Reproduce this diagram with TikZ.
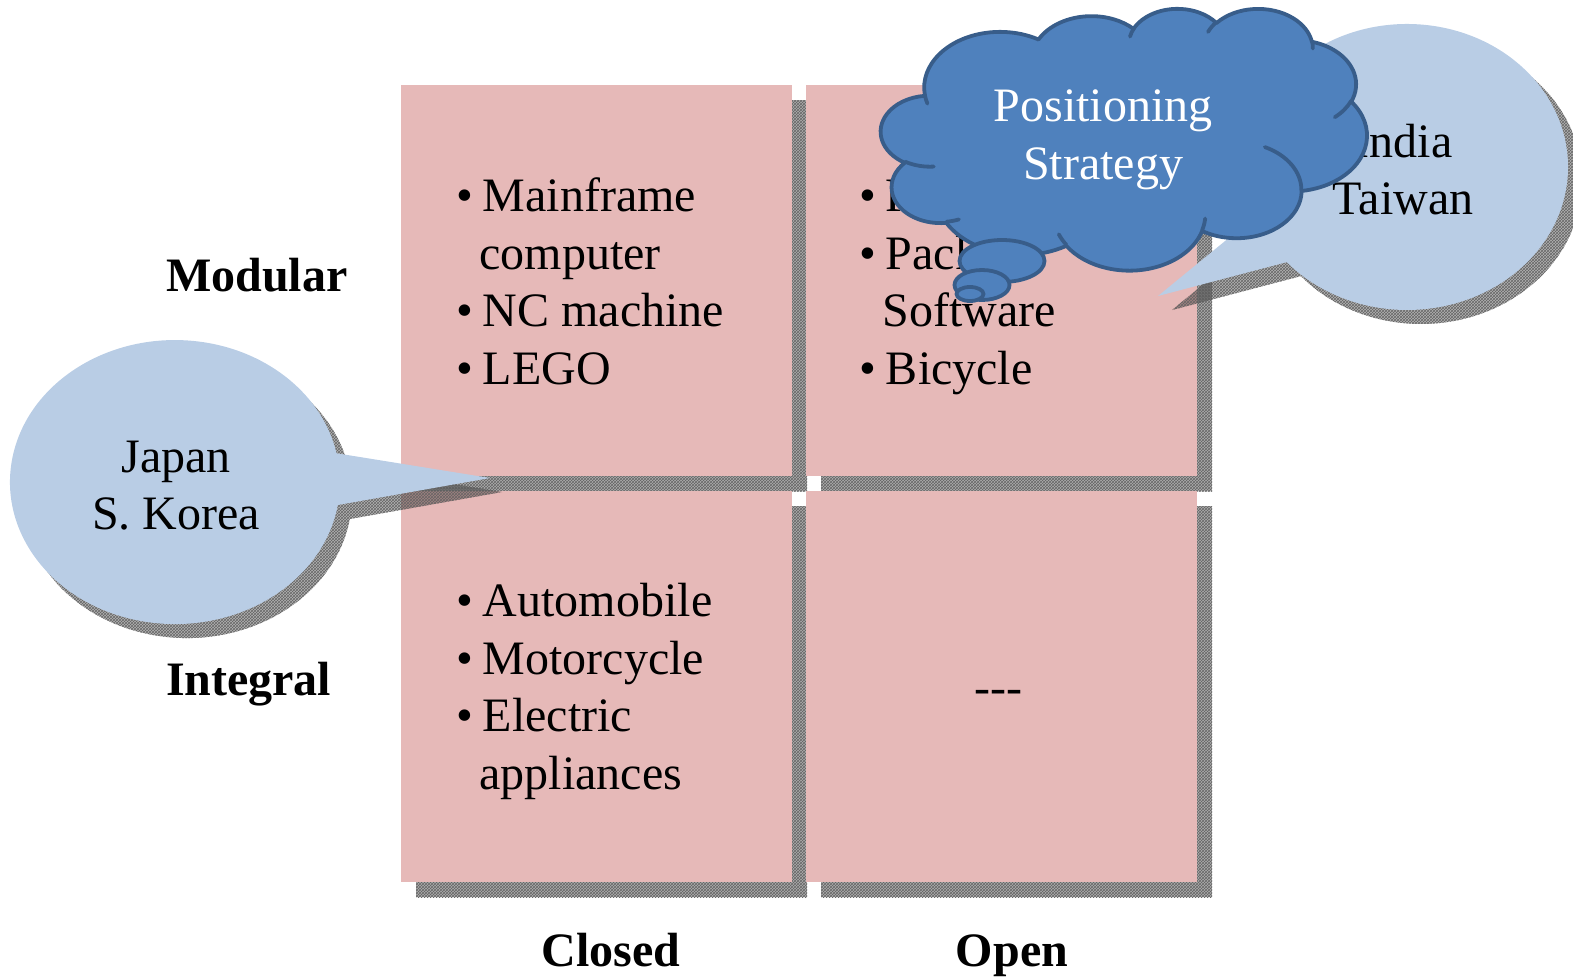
\documentclass[tikz,border=0pt]{standalone}
\usepackage{fontspec}
\setmainfont{Liberation Serif}
\usetikzlibrary{patterns,shapes.geometric}

\definecolor{cellpink}{HTML}{E6B9B8}
\definecolor{calloutblue}{HTML}{B9CDE5}
\definecolor{cloudblue}{HTML}{4F81BD}
\definecolor{cloudedge}{HTML}{385D8A}

\newcommand\itemdot{\makebox[27pt][l]{\textbullet}}

\tikzset{
  cell/.style={fill=cellpink, anchor=north west, inner sep=0pt, outer sep=0pt,
               minimum width=391pt, minimum height=391pt},
  dropshade/.style={fill=black, fill opacity=0.3,
               postaction={pattern=crosshatch, pattern color=black!60, fill opacity=1}},
  txt/.style={inner sep=0pt, outer sep=0pt, font=\fontsize{48}{57.5}\selectfont},
  head/.style={txt, font=\fontsize{48}{57.5}\selectfont\bfseries},
  callout/.style={fill=calloutblue},
  cloudpath/.style={fill=cloudblue, draw=cloudedge, line width=3.8pt, line join=round},
  puffline/.style={draw=cloudedge, line width=3.8pt, line cap=round},
  % elliptical arc given by radii, start angle and sweep measured as true angles
  ooarc/.style n args={4}{insert path={arc[
      start angle={atan2((#1)*sin(#3),(#2)*cos(#3))},
      delta angle={mod(atan2((#1)*sin((#3)+(#4)),(#2)*cos((#3)+(#4)))-atan2((#1)*sin(#3),(#2)*cos(#3))+720,360)},
      x radius=#1, y radius=#2]}},
  jpshape/.style={insert path={(490,478) -- (337.8,505.0)
      arc[start angle=9.3, end angle=348.3, x radius=165, y radius=142] -- cycle}},
  inshape/.style={insert path={(1158,296) -- (1286.8,262.1)
      arc[start angle=138.3, end angle=-200, x radius=161, y radius=143] -- cycle}},
}

\begin{document}
\begin{tikzpicture}[x=1pt, y=-1pt]
\useasboundingbox (0,0) rectangle (1573,977);

% the four cells of the matrix with their drop shadows
\node[cell] (tl) at (401,85) {};
\node[cell] (tr) at (806,85) {};
\node[cell] (bl) at (401,491) {};
\node[cell] (br) at (806,491) {};
\foreach \c in {tl,tr,bl,br}{
  \fill[dropshade, fill opacity=1, fill=black!32]
    ([shift={(15,15)}]\c.north west) rectangle ([shift={(15,15)}]\c.south east);
  \fill[cellpink] (\c.north west) rectangle (\c.south east);
}

% cell contents
\node[txt, anchor=base west] (tllist) at (456,211.7)
  {\begin{tabular}[t]{@{}l@{}}\itemdot Mainframe\\\hspace{23.5pt}computer\\\itemdot NC machine\\\itemdot LEGO\end{tabular}};
\node[txt, anchor=base west] (trlist) at (859,211.7)
  {\begin{tabular}[t]{@{}l@{}}\itemdot PC\\\itemdot Package\\\hspace{23.5pt}Software\\\itemdot Bicycle\end{tabular}};
\node[txt, anchor=base west] (bllist) at (456,616.7)
  {\begin{tabular}[t]{@{}l@{}}\itemdot Automobile\\\itemdot Motorcycle\\\itemdot Electric\\\hspace{23.5pt}appliances\end{tabular}};
\node[txt, anchor=base] (brtext) at (998,703) {-{}-{}-};

% axis labels
\node[head, anchor=base west] (modular) at (166,291.7) {Modular};
\node[head, anchor=base west] (integral) at (166,695) {Integral};
\node[head, anchor=base] (closed) at (611,966) {Closed};
\node[head, anchor=base] (open) at (1012,966) {Open};

% speech callouts
\fill[dropshade, shift={(12,14)}, jpshape];
\fill[callout, jpshape];
\node[txt, anchor=base] (japan) at (176,472)
  {\begin{tabular}[t]{@{}c@{}}Japan\\S. Korea\end{tabular}};

\fill[dropshade, shift={(14,14)}, inshape];
\fill[callout, inshape];
\node[txt, anchor=base] (india) at (1403,157)
  {\begin{tabular}[t]{@{}c@{}}India\\Taiwan\end{tabular}};

% thought cloud
\begin{scope}[shift={(881,8)}, x=0.01125pt, y=-0.0060648pt]
  \path[cloudpath] (3900,14370)
    [ooarc={6753}{9190}{-190.4875}{123.7805}]
    [ooarc={5333}{7267}{-144.1024}{89.9452}]
    [ooarc={4365}{5945}{-145.8079}{99.7230}]
    [ooarc={4857}{6595}{-130.9861}{117.2417}]
    [ooarc={5333}{7273}{-78.7089}{109.0269}]
    [ooarc={6775}{9220}{-46.2673}{130.2690}]
    [ooarc={5785}{7867}{0.6250}{114.0333}]
    [ooarc={6752}{9215}{22.4516}{115.1726}]
    [ooarc={7720}{10543}{66.2426}{75.7110}]
    [ooarc={4360}{5918}{-274.9421}{146.7356}]
    [ooarc={4345}{5945}{-246.8285}{152.5189}] -- cycle;
  \path[puffline] (4693,26177) [ooarc={4345}{5945}{86.7420}{26.4295}];
  \path[puffline] (6928,34899) [ooarc={4360}{5918}{73.6105}{11.4475}];
  \path[puffline] (16478,39090) [ooarc={6752}{9215}{137.6242}{14.0811}];
  \path[puffline] (28827,34751) [ooarc={6752}{9215}{6.4533}{15.9984}];
  \path[puffline] (34129,22954) [ooarc={5785}{7867}{-70.2924}{70.9174}];
  \path[puffline] (41798,15354) [ooarc={5333}{7273}{30.3180}{27.7515}];
  \path[puffline] (38324,5426) [ooarc={4857}{6595}{-13.7443}{14.8589}];
  \path[puffline] (29078,3952) [ooarc={4857}{6595}{-149.1815}{18.1954}];
  \path[puffline] (22141,4720) [ooarc={4365}{5945}{-163.4943}{17.6864}];
  \path[puffline] (4127,15789) [ooarc={6753}{9190}{157.6544}{11.8582}];
\end{scope}
\node[ellipse, cloudpath, minimum width=85pt, minimum height=42pt, inner sep=0pt] (puff1) at (1002,261) {};
\node[ellipse, cloudpath, minimum width=55pt, minimum height=30pt, inner sep=0pt] (puff2) at (982,285) {};
\node[ellipse, cloudpath, minimum width=27pt, minimum height=14pt, inner sep=0pt] (puff3) at (970,294) {};
\node[txt, anchor=base, text=white] (strategy) at (1103,121.7)
  {\begin{tabular}[t]{@{}c@{}}Positioning\\Strategy\end{tabular}};
\end{tikzpicture}
\end{document}
